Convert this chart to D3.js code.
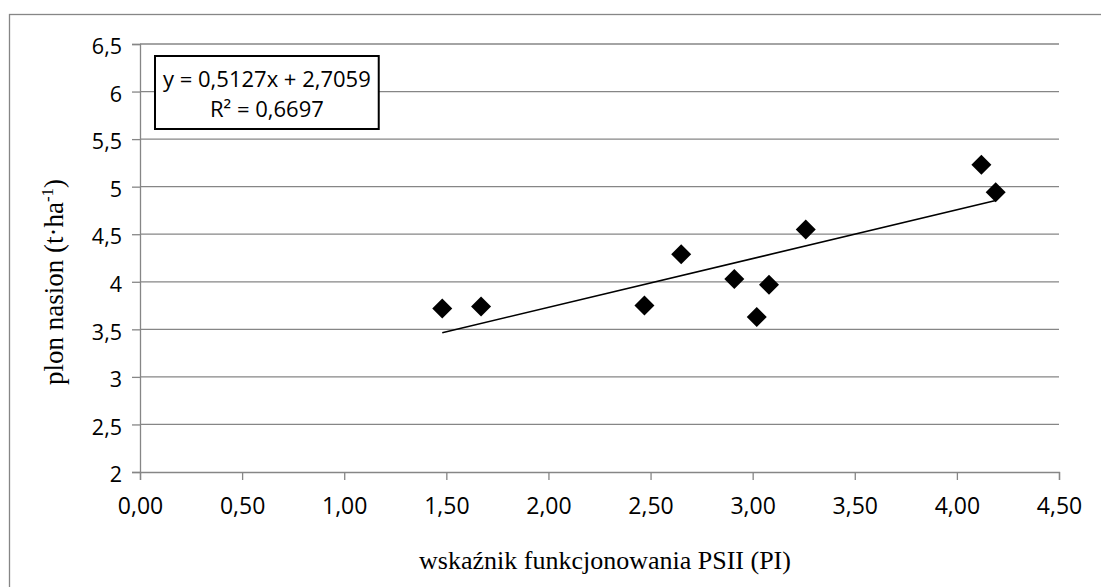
<!DOCTYPE html>
<html>
<head>
<meta charset="utf-8">
<script src="https://cdn.jsdelivr.net/npm/d3@7"></script>
<style>
  html, body { margin: 0; padding: 0; background: #fff; }
  svg { display: block; }
</style>
</head>
<body>
<svg id="chart" width="1101" height="587"></svg>
<script>
// PSII performance index (PI) vs. seed yield
const piIndex   = [1.48, 1.67, 2.47, 2.65, 2.91, 3.08, 3.02, 3.26, 4.12, 4.19];
const seedYield = [3.72, 3.74, 3.75, 4.29, 4.03, 3.97, 3.63, 4.55, 5.23, 4.94];
const xTicks = [0, 0.5, 1, 1.5, 2, 2.5, 3, 3.5, 4, 4.5];
const yTicks = [2, 2.5, 3, 3.5, 4, 4.5, 5, 5.5, 6, 6.5];
const slope = 0.5127, intercept = 2.7059, r2 = 0.6697;
const xTitle = "wskaźnik funkcjonowania PSII (PI)";
const yTitle = "plon nasion (t·ha";

const W = 1101, H = 587;
const plot = { left: 140, right: 1059, top: 44, bottom: 472 };
const grid = "#868686";
const sansFont = "'Open Sans', 'Noto Sans', sans-serif";
const serifFont = "'Liberation Serif', 'DejaVu Serif', serif";

const svg = d3.select("#chart");

const x = d3.scaleLinear().domain([0, 4.5]).range([plot.left, plot.right]);
const y = d3.scaleLinear().domain([2, 6.5]).range([plot.bottom, plot.top]);

const comma = s => s.replace(".", ",");
const fmtX = v => comma(d3.format(".2f")(v));
const fmtY = v => comma(String(v));

// outer chart frame
svg.append("rect")
  .attr("x", 9.5).attr("y", 14.5)
  .attr("width", W + 20).attr("height", H + 20)
  .attr("fill", "none").attr("stroke", grid).attr("stroke-width", 1.3);

// horizontal gridlines
svg.append("g")
  .selectAll("line")
  .data(yTicks.slice(1))
  .join("line")
  .attr("x1", plot.left).attr("x2", plot.right)
  .attr("y1", d => y(d)).attr("y2", d => y(d))
  .attr("stroke", grid).attr("stroke-width", 1.3);

// y axis
const yAxis = svg.append("g")
  .attr("transform", `translate(${plot.left},0)`)
  .call(d3.axisLeft(y).tickValues(yTicks).tickFormat(fmtY).tickSize(8).tickPadding(10));
yAxis.select(".domain").attr("stroke", grid).attr("stroke-width", 1.3);
yAxis.selectAll(".tick line").attr("stroke", grid).attr("stroke-width", 1.3);
yAxis.selectAll(".tick text")
  .attr("font-family", sansFont).attr("font-size", 21.5).attr("fill", "#000")
  .attr("dy", "0.45em");

// x axis
const xAxis = svg.append("g")
  .attr("transform", `translate(0,${plot.bottom})`)
  .call(d3.axisBottom(x).tickValues(xTicks).tickFormat(fmtX).tickSize(8).tickPadding(18));
xAxis.select(".domain").attr("stroke", grid).attr("stroke-width", 1.3);
xAxis.selectAll(".tick line").attr("stroke", grid).attr("stroke-width", 1.3);
xAxis.selectAll(".tick text")
  .attr("font-family", sansFont).attr("font-size", 23).attr("fill", "#000");

// linear trend line over the observed PI range
const xMin = d3.min(piIndex), xMax = d3.max(piIndex);
svg.append("line")
  .attr("x1", x(xMin)).attr("y1", y(slope * xMin + intercept))
  .attr("x2", x(xMax)).attr("y2", y(slope * xMax + intercept))
  .attr("stroke", "#000").attr("stroke-width", 1.6);

// diamond markers
const pts = piIndex.map((v, i) => [v, seedYield[i]]);
const s = 10;
svg.append("g")
  .selectAll("path")
  .data(pts)
  .join("path")
  .attr("d", d => {
    const cx = x(d[0]), cy = y(d[1]);
    return `M${cx},${cy - s}L${cx + s},${cy}L${cx},${cy + s}L${cx - s},${cy}Z`;
  })
  .attr("fill", "#000");

// regression equation box
const eq = svg.append("g");
const eqText = eq.append("text")
  .attr("font-family", sansFont).attr("font-size", 22).attr("fill", "#000")
  .attr("text-anchor", "middle");
const line1 = `y = ${comma(slope.toFixed(4))}x + ${comma(intercept.toFixed(4))}`;
const line2 = `R² = ${comma(r2.toFixed(4))}`;
eqText.append("tspan").attr("x", 0).attr("y", 87).text(line1);
eqText.append("tspan").attr("x", 0).attr("y", 117).text(line2);
const bb = eqText.node().getBBox();
const boxLeft = 155, pad = 8;
const boxW = bb.width + 2 * pad;
eqText.attr("transform", `translate(${boxLeft + boxW / 2},0)`);
eq.insert("rect", "text")
  .attr("x", boxLeft).attr("y", 56)
  .attr("width", boxW).attr("height", 73)
  .attr("fill", "#fff").attr("stroke", "#000").attr("stroke-width", 2);

// axis titles
svg.append("text")
  .attr("x", 605).attr("y", 569)
  .attr("text-anchor", "middle")
  .attr("font-family", serifFont).attr("font-size", 26).attr("fill", "#000")
  .text(xTitle);

const yt = svg.append("text")
  .attr("transform", "translate(63,282) rotate(-90)")
  .attr("text-anchor", "middle")
  .attr("font-family", serifFont).attr("font-size", 27).attr("fill", "#000");
yt.append("tspan").text(yTitle);
yt.append("tspan").attr("dy", -10).attr("font-size", 17).text("-1");
yt.append("tspan").attr("dy", 10).text(")");
</script>
</body>
</html>
